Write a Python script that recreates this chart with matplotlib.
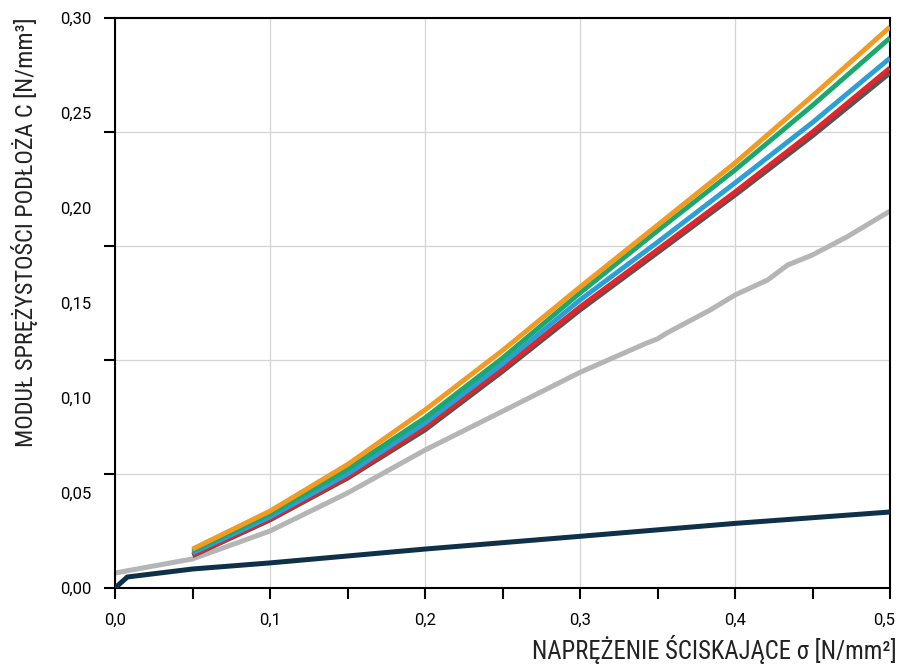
import numpy as np
import matplotlib.pyplot as plt
import matplotlib.transforms as mtransforms
from matplotlib import font_manager

# stress sigma [N/mm2]
x_col = [0.05, 0.1, 0.15, 0.2, 0.25, 0.3, 0.35, 0.4, 0.45, 0.5]
orange = [0.0205, 0.0405, 0.065, 0.0937, 0.125, 0.1584, 0.191, 0.2237, 0.259, 0.2953]
green = [0.0195, 0.039, 0.0625, 0.0895, 0.121, 0.1553, 0.188, 0.220, 0.254, 0.2895]
blue = [0.0185, 0.0374, 0.060, 0.0868, 0.118, 0.1516, 0.182, 0.2132, 0.245, 0.2789]
red = [0.0175, 0.0363, 0.0585, 0.0847, 0.1155, 0.1479, 0.178, 0.2084, 0.240, 0.2737]
dark = [0.017, 0.0358, 0.0578, 0.0832, 0.114, 0.1463, 0.1765, 0.2068, 0.238, 0.2711]

x_gray = [0.0, 0.05, 0.1, 0.15, 0.2, 0.25, 0.3, 0.343, 0.35, 0.356, 0.384, 0.4, 0.421, 0.434, 0.45, 0.472, 0.5]
gray = [0.0079, 0.0153, 0.0300, 0.050, 0.0726, 0.093, 0.1135, 0.1289, 0.1311, 0.1342, 0.1463,
        0.1542, 0.1621, 0.1700, 0.1753, 0.1847, 0.1984]

x_navy = [0.0, 0.008, 0.05, 0.1, 0.2, 0.3, 0.4, 0.5]
navy = [0.0, 0.0058, 0.0100, 0.0132, 0.0205, 0.0272, 0.0340, 0.0400]

ylabels_pos = [0.0, 0.05, 0.10, 0.15, 0.20, 0.25, 0.30]
ylabels = ['0,00', '0,05', '0,10', '0,15', '0,20', '0,25', '0,30']
ytick_marks = [0.0, 0.06, 0.12, 0.18, 0.24, 0.30]
xticks = [0.0, 0.1, 0.2, 0.3, 0.4, 0.5]
xlabels = ['0,0', '0,1', '0,2', '0,3', '0,4', '0,5']

plt.rcParams['font.family'] = ['Roboto', 'DejaVu Sans']

# pick a condensed face for the axis titles if one is installed
names = {f.name for f in font_manager.fontManager.ttflist}
narrow = [n for n in ['Roboto Condensed', 'DejaVu Sans Condensed', 'Liberation Sans Narrow',
                      'Open Sans Condensed'] if n in names]
narrow = narrow + ['DejaVu Sans']

fig = plt.figure(figsize=(8.98, 6.68), dpi=100)
ax = fig.add_axes([115 / 898, 80 / 668, 775 / 898, 570 / 668])

lw = 3.5
ax.plot(x_gray, gray, color='#b5b5b5', lw=3.6, solid_capstyle='butt', zorder=2)
ax.plot(x_navy, navy, color='#0f3049', lw=3.6, solid_capstyle='butt', zorder=3)
for ys, c in [(dark, '#555555'), (red, '#e2242b'), (blue, '#2a9fd8'),
              (green, '#1aa86e'), (orange, '#f39a21')]:
    ax.plot(x_col, ys, color=c, lw=lw, solid_capstyle='butt', zorder=4)

ax.set_xlim(0, 0.5)
ax.set_ylim(0, 0.30)

ax.set_xticks(xticks, xlabels)
ax.set_xticks(np.arange(0.05, 0.5, 0.1), minor=True)
ax.set_yticks(ytick_marks, [''] * len(ytick_marks))
ax.set_yticks(ylabels_pos, ylabels, minor=True)
ax.yaxis.remove_overlapping_locs = False

ax.tick_params(axis='x', which='both', direction='out', length=8, width=1.5,
               labelsize=12, pad=10, colors='black')
ax.tick_params(axis='y', which='major', direction='out', length=8, width=1.5)
ax.tick_params(axis='y', which='minor', length=0, labelsize=12, pad=17)

# last x label sits a bit left of its tick so it stays inside the figure
last = ax.get_xticklabels()[-1]
last.set_transform(last.get_transform() +
                   mtransforms.ScaledTranslation(-6 / 100, 0, fig.dpi_scale_trans))

ax.grid(True, which='major', color='#d4d4d4', lw=0.9)
ax.set_axisbelow(True)
for s in ax.spines.values():
    s.set_linewidth(1.5)
    s.set_color('black')

fig.text(897 / 898, (668 - 650) / 668, 'NAPRĘŻENIE ŚCISKAJĄCE σ [N/mm²]',
         ha='right', va='center', fontsize=17.8, family=narrow, color='#222222')
fig.text(25 / 898, (668 - 232) / 668, 'MODUŁ SPRĘŻYSTOŚCI PODŁOŻA C [N/mm³]',
         ha='center', va='center', rotation=90, fontsize=17.4, family=narrow,
         color='#222222')

fig.savefig('out.png', dpi=100)
